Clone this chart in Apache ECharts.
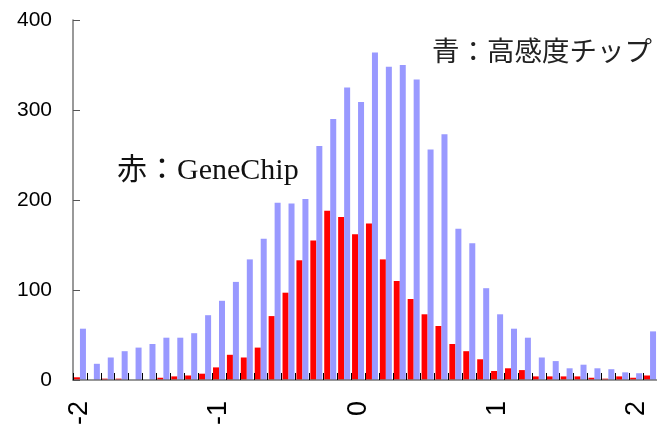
<!DOCTYPE html>
<html>
<head>
<meta charset="utf-8">
<script src="https://cdn.jsdelivr.net/npm/echarts@6/dist/echarts.min.js"></script>
<style>
html,body{margin:0;padding:0;background:#fff;}
#chart{width:657px;height:428px;}
</style>
</head>
<body>
<div id="chart"></div>
<script>
var categories = ['-2','-1.9','-1.8','-1.7','-1.6','-1.5','-1.4','-1.3','-1.2','-1.1',
  '-1','-0.9','-0.8','-0.7','-0.6','-0.5','-0.4','-0.3','-0.2','-0.1',
  '0','0.1','0.2','0.3','0.4','0.5','0.6','0.7','0.8','0.9',
  '1','1.1','1.2','1.3','1.4','1.5','1.6','1.7','1.8','1.9',
  '2','2.1'];
var redGeneChip = [3,0,1.5,1.5,0,0,2.5,4,5,7,
  14,28,25,36,71,97,133,155,188,181,
  162,174,134,110,90,73,60,40,32,23,
  10,13,11,4,4,4,4,2.5,1.5,4,
  2.5,5];
var blueHighSens = [57,18,25,32,36,40,47,47,52,72,
  88,109,134,157,197,196,201,260,290,325,
  309,364,348,350,334,256,273,168,152,102,
  73,57,47,25,21,13,17,13,12,8.5,
  7.5,54];
var yTicks = [0,100,200,300,400];
var labelRed = '赤：GeneChip';
var labelBlue = '青：高感度チップ';

var chart = echarts.init(document.getElementById('chart'));
chart.setOption({
  animation: false,
  backgroundColor: '#ffffff',
  grid: {left: 73, top: 20, width: 591, height: 360},
  xAxis: {
    type: 'category',
    data: categories,
    z: 10,
    axisLine: {show: true, lineStyle: {color: '#777777', width: 1.5}},
    axisTick: {show: true, inside: true, length: 7, interval: 0, lineStyle: {color: '#000000', width: 1}},
    axisLabel: {
      interval: 9, rotate: 90, margin: 21,
      fontFamily: '"Liberation Sans Narrow", "Liberation Sans", Arial, sans-serif', fontSize: 27, color: '#000000'
    },
    splitLine: {show: false}
  },
  yAxis: {
    type: 'value',
    min: yTicks[0], max: yTicks[yTicks.length - 1], interval: 100,
    z: 10,
    axisLine: {show: true, lineStyle: {color: '#777777', width: 1.5}},
    axisTick: {show: true, inside: true, length: 7, lineStyle: {color: '#555555', width: 1}},
    axisLabel: {margin: 21, fontFamily: 'Liberation Sans, Arial, sans-serif', fontSize: 21, color: '#000000'},
    splitLine: {show: false}
  },
  series: [
    {type: 'bar', name: 'GeneChip', data: redGeneChip, barWidth: 6, barGap: '0%',
     itemStyle: {color: '#ff0000'}},
    {type: 'bar', name: 'HighSens', data: blueHighSens, barWidth: 6, barGap: '0%',
     itemStyle: {color: '#9999ff'}}
  ],
  graphic: [
    {type: 'text', left: 117, top: 156, z: 20,
     style: {text: labelRed, font: '30px "Liberation Serif", "Noto Sans CJK JP", serif', fill: '#111111'}},
    {type: 'text', left: 432, top: 37, z: 20,
     style: {text: labelBlue, font: '27.5px "Noto Sans CJK JP", sans-serif', fill: '#222222'}}
  ]
});
</script>
</body>
</html>
